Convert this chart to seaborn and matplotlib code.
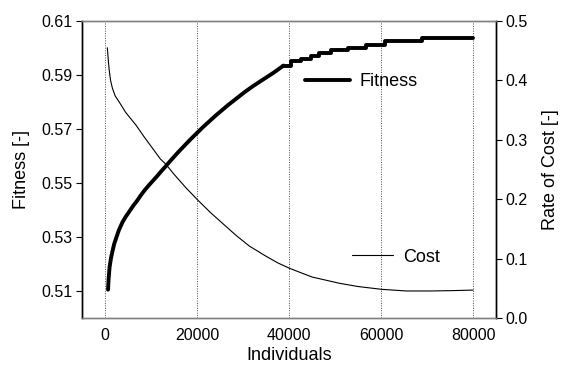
import numpy as np
import pandas as pd
import matplotlib
matplotlib.use("Agg")
import matplotlib.pyplot as plt
import seaborn as sns
from matplotlib.lines import Line2D

# fitness (left axis); fine steps early, coarse steps later
fit_x = [650, 800, 1000, 1300, 1600, 2000, 2500, 3000, 3800, 4500,
         5300, 6100, 7000, 7800, 8700, 9600, 10500, 11400, 12300, 13200,
         14100, 15000, 15900, 16800, 17700, 18600, 19500, 20400, 21300, 22200,
         23100, 24000, 24900, 25800, 26700, 27600, 28500, 29400, 30300, 31200,
         32100, 33000, 33900, 34800, 35700, 36600, 37600, 38800]
fit_y = [0.5105, 0.5150, 0.5190, 0.5222, 0.5246, 0.5275, 0.5300, 0.5325, 0.5355, 0.5375,
         0.5395, 0.5415, 0.5435, 0.5455, 0.5475, 0.5493, 0.5510, 0.5527, 0.5545, 0.5562,
         0.5580, 0.5597, 0.5614, 0.5630, 0.5646, 0.5662, 0.5677, 0.5692, 0.5707, 0.5721,
         0.5735, 0.5749, 0.5762, 0.5775, 0.5788, 0.5800, 0.5812, 0.5824, 0.5836, 0.5847,
         0.5858, 0.5868, 0.5878, 0.5888, 0.5898, 0.5908, 0.5920, 0.5935]
step_x = [38800, 40400, 42650, 44840, 46500, 49200, 52800, 56700, 60800, 69000, 80000]
step_y = [0.5935, 0.5950, 0.5961, 0.5971, 0.5981, 0.5991, 0.6001, 0.6012, 0.6025, 0.6037, 0.6037]

# rate of cost (right axis)
cost_x = [500, 700, 900, 1200, 1600, 2200, 3050, 4500, 6700, 8500,
          10300, 12000, 13200, 15000, 17500, 20100, 23000, 25600, 28500, 31400,
          35000, 37500, 40100, 45000, 51000, 55000, 60100, 65500, 70600, 75000, 80000]
cost_y = [0.455, 0.435, 0.418, 0.400, 0.387, 0.374, 0.364, 0.346, 0.325, 0.305,
          0.286, 0.268, 0.259, 0.242, 0.220, 0.199, 0.177, 0.159, 0.139, 0.121,
          0.104, 0.093, 0.0837, 0.069, 0.0584, 0.053, 0.0483, 0.0455, 0.0455, 0.046, 0.047]

x_ticks = [0, 20000, 40000, 60000, 80000]
fit_ticks = [0.51, 0.53, 0.55, 0.57, 0.59, 0.61]
cost_ticks = [0.0, 0.1, 0.2, 0.3, 0.4, 0.5]

df_fit = pd.DataFrame({"Individuals": fit_x, "Fitness": fit_y})
df_step = pd.DataFrame({"Individuals": step_x, "Fitness": step_y})
df_cost = pd.DataFrame({"Individuals": cost_x, "Cost": cost_y})

sns.set_style("white")
plt.rcParams["font.family"] = ["Liberation Sans", "DejaVu Sans"]
plt.rcParams["text.color"] = "black"
plt.rcParams["axes.labelcolor"] = "black"
plt.rcParams["xtick.color"] = "black"
plt.rcParams["ytick.color"] = "black"

fig = plt.figure(figsize=(5.63, 3.67), dpi=100)
ax = fig.add_axes([0.1457, 0.1335, 0.7353, 0.8093])
ax2 = ax.twinx()

# dotted vertical grid
for xv in x_ticks:
    ax.axvline(xv, color="0.3", ls=(0, (1, 1.5)), lw=0.7, zorder=0)

sns.lineplot(data=df_fit, x="Individuals", y="Fitness", ax=ax, color="black",
             lw=2.8, zorder=3)
sns.lineplot(data=df_step, x="Individuals", y="Fitness", ax=ax, color="black",
             lw=2.8, drawstyle="steps-post", zorder=3)
sns.lineplot(data=df_cost, x="Individuals", y="Cost", ax=ax2, color="black",
             lw=0.8, zorder=3)

ax.set_xlim(-5000, 85000)
ax.set_ylim(0.50, 0.61)
ax2.set_ylim(0.0, 0.5)
ax.set_xticks(x_ticks)
ax.set_yticks(fit_ticks)
ax.set_yticklabels([f"{t:.2f}" for t in fit_ticks])
ax2.set_yticks(cost_ticks)
ax2.set_yticklabels([f"{t:.1f}" for t in cost_ticks])

ax.set_xlabel("Individuals", fontsize=13, labelpad=3)
ax.set_ylabel("Fitness [-]", fontsize=13, labelpad=8)
ax2.set_ylabel("Rate of Cost [-]", fontsize=13, labelpad=10)

ax.tick_params(axis="x", direction="out", length=4, color="0.5", labelsize=11.5, pad=3)
ax.tick_params(axis="y", direction="out", length=4, color="black", labelsize=11.5, pad=3, left=True)
ax2.tick_params(axis="y", direction="out", length=4, color="black", labelsize=11.5, pad=3, right=True)

for a in (ax, ax2):
    a.spines["top"].set_color("0.5")
    a.spines["bottom"].set_color("0.5")
    a.spines["left"].set_color("black")
    a.spines["right"].set_color("black")
    for s in a.spines.values():
        s.set_linewidth(1.0)

h_fit = Line2D([], [], color="black", lw=2.8)
h_cost = Line2D([], [], color="black", lw=0.8)
leg1 = ax2.legend([h_fit], ["Fitness"], loc="center left", bbox_to_anchor=(0.539, 0.795),
                  frameon=False, fontsize=13, handlelength=2.5, handletextpad=0.5,
                  borderpad=0, borderaxespad=0)
ax2.add_artist(leg1)
ax2.legend([h_cost], ["Cost"], loc="center left", bbox_to_anchor=(0.652, 0.205),
           frameon=False, fontsize=13, handlelength=2.3, handletextpad=0.55,
           borderpad=0, borderaxespad=0)

fig.savefig("out.png", dpi=100)
